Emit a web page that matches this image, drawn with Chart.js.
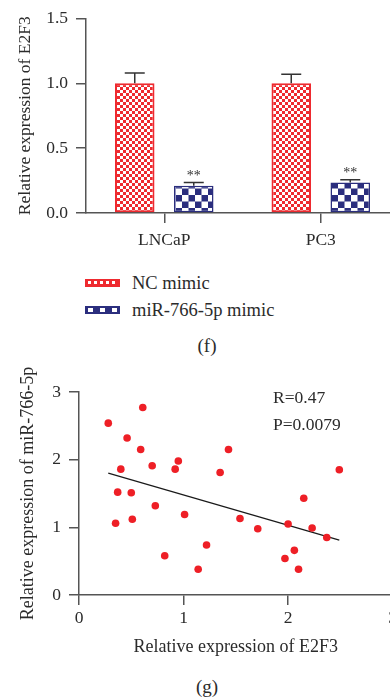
<!DOCTYPE html>
<html>
<head>
<meta charset="utf-8">
<script src="https://cdn.jsdelivr.net/npm/chart.js@4.4.0/dist/chart.umd.min.js"></script>
<style>
html, body { margin: 0; padding: 0; background: #fff; width: 390px; height: 699px; overflow: hidden; position: relative;
  font-family: "Liberation Serif", "DejaVu Serif", serif; color: #2b2b2b; }
.box { position: absolute; left: 0; }
#barBox { top: 0; width: 400px; height: 262px; }
#dotBox { top: 350px; width: 400px; height: 310px; }
.txt { position: absolute; white-space: nowrap; line-height: 1; transform: translateY(-50%); }
.swatch { position: absolute; left: 85px; width: 35px; height: 8px; }
</style>
</head>
<body>
<div class="box" id="barBox"><canvas id="barChart"></canvas></div>
<canvas class="swatch" id="swNc" width="35" height="8" style="top:279px"></canvas>
<div class="txt" style="left:132px;top:283px;font-size:18.5px">NC mimic</div>
<canvas class="swatch" id="swMi" width="35" height="8" style="top:306px"></canvas>
<div class="txt" style="left:132px;top:310px;font-size:18.5px">miR-766-5p mimic</div>
<div class="txt" style="left:0;width:414px;text-align:center;top:345px;font-size:19px">(f)</div>

<div class="box" id="dotBox"><canvas id="dotChart"></canvas></div>
<div class="txt" style="left:273px;top:398px;font-size:17.5px">R=0.47</div>
<div class="txt" style="left:273px;top:425px;font-size:17.5px">P=0.0079</div>
<div class="txt" style="left:0;width:414px;text-align:center;top:686px;font-size:19px">(g)</div>

<script>
// bar chart (f)
const categories = ['LNCaP', 'PC3'];
const ncMimic = [1.0, 1.0];
const ncErr = [0.08, 0.07];
const miMimic = [0.21, 0.235];
const miErr = [0.025, 0.022];
const sigMarks = ['**', '**'];
const barTicks = [0, 0.5, 1.0, 1.5];

// scatter (g)
const e2f3   = [0.28, 0.61, 0.46, 0.59, 0.40, 0.70, 0.95, 0.92, 1.43, 1.35, 2.49, 0.37, 0.50, 0.73, 0.35,
                0.51, 1.01, 2.15, 1.54, 1.71, 2.00, 2.23, 2.37, 0.82, 1.22, 1.14, 1.97, 2.06, 2.10];
const mir766 = [2.54, 2.77, 2.32, 2.15, 1.86, 1.91, 1.98, 1.86, 2.15, 1.81, 1.85, 1.52, 1.51, 1.32, 1.06,
                1.12, 1.19, 1.43, 1.13, 0.98, 1.05, 0.99, 0.85, 0.58, 0.74, 0.38, 0.54, 0.66, 0.38];
const fitX = [0.28, 2.49];
const fitY = [1.80, 0.81];
const scatterTicks = [0, 1, 2, 3];

const FONT = '"Liberation Serif", "DejaVu Serif", serif';
const INK = '#2b2b2b';
const AXIS = '#555';
const RED = '#ee2a2f';
const NAVY = '#2b2e7e';

function checker(size, fg, bg) {
  const c = document.createElement('canvas');
  c.width = c.height = size * 2;
  const g = c.getContext('2d');
  g.fillStyle = bg; g.fillRect(0, 0, size * 2, size * 2);
  g.fillStyle = fg; g.fillRect(0, 0, size, size); g.fillRect(size, size, size, size);
  return g.createPattern(c, 'repeat');
}

// legend swatches
(function () {
  let g = document.getElementById('swNc').getContext('2d');
  g.fillStyle = RED; g.fillRect(0, 0, 35, 8);
  g.fillStyle = '#fff';
  for (let x = 3; x < 33; x += 6) g.fillRect(x, 2, 3, 3);
  g = document.getElementById('swMi').getContext('2d');
  g.fillStyle = NAVY; g.fillRect(0, 0, 35, 8);
  g.fillStyle = '#fff';
  for (let x = 3; x < 33; x += 12) g.fillRect(x, 2, 5, 4);
})();

const errorBars = {
  id: 'errorBars',
  afterDatasetsDraw(chart) {
    const ctx = chart.ctx, y = chart.scales.y;
    chart.data.datasets.forEach((ds, i) => {
      chart.getDatasetMeta(i).data.forEach((bar, j) => {
        const top = y.getPixelForValue(ds.data[j] + ds.err[j]);
        ctx.save();
        ctx.strokeStyle = '#333';
        ctx.lineWidth = 1.5;
        ctx.beginPath();
        ctx.moveTo(bar.x, bar.y); ctx.lineTo(bar.x, top);
        ctx.moveTo(bar.x - 10, top); ctx.lineTo(bar.x + 10, top);
        ctx.stroke();
        if (ds.marks) {
          ctx.fillStyle = '#333';
          ctx.font = '14px ' + FONT;
          ctx.textAlign = 'center';
          ctx.textBaseline = 'alphabetic';
          ctx.fillText(ds.marks[j], bar.x, top - 3);
        }
        ctx.restore();
      });
    });
  }
};

new Chart(document.getElementById('barChart'), {
  type: 'bar',
  data: {
    labels: categories,
    datasets: [
      { label: 'NC mimic', data: ncMimic, err: ncErr, backgroundColor: checker(3, '#fff', RED),
        borderColor: RED, borderWidth: 2, borderSkipped: false,
        categoryPercentage: 0.754, barPercentage: 0.67 },
      { label: 'miR-766-5p mimic', data: miMimic, err: miErr, marks: sigMarks,
        backgroundColor: checker(6.5, '#fff', NAVY), borderColor: NAVY, borderWidth: 1.5, borderSkipped: false,
        categoryPercentage: 0.754, barPercentage: 0.67 }
    ]
  },
  options: {
    responsive: true,
    maintainAspectRatio: false,
    animation: false,
    layout: { padding: { top: 13, right: 1, left: 0, bottom: 0 } },
    plugins: { legend: { display: false }, tooltip: { enabled: false } },
    scales: {
      x: {
        afterFit: s => { s.height = 49; },
        grid: { drawOnChartArea: false, offset: false, tickLength: 10, color: AXIS, lineWidth: 1.5 },
        border: { color: AXIS, width: 1.5 },
        ticks: { color: INK, font: { family: FONT, size: 17.5 }, padding: 7 }
      },
      y: {
        min: 0, max: 1.5,
        afterFit: s => { s.width = 86; },
        afterBuildTicks: s => { s.ticks = barTicks.map(v => ({ value: v })); },
        grid: { drawOnChartArea: false, tickLength: 10, color: AXIS, lineWidth: 1.5 },
        border: { color: AXIS, width: 1.5 },
        ticks: { color: INK, font: { family: FONT, size: 17.5 }, padding: 8, callback: v => v.toFixed(1) },
        title: { display: true, text: 'Relative expression of E2F3', color: INK,
                 font: { family: FONT, size: 17.5 }, padding: { top: 14.5, bottom: 0 } }
      }
    }
  },
  plugins: [errorBars]
});

new Chart(document.getElementById('dotChart'), {
  type: 'scatter',
  data: {
    datasets: [
      { data: e2f3.map((x, i) => ({ x: x, y: mir766[i] })), backgroundColor: '#ee1f26',
        borderWidth: 0, pointRadius: 3.8 },
      { type: 'line', data: fitX.map((x, i) => ({ x: x, y: fitY[i] })), borderColor: '#1a1a1a',
        borderWidth: 1.2, pointRadius: 0, fill: false }
    ]
  },
  options: {
    responsive: true,
    maintainAspectRatio: false,
    animation: false,
    layout: { padding: { top: 42, right: 7, left: 0, bottom: 0 } },
    plugins: { legend: { display: false }, tooltip: { enabled: false } },
    scales: {
      x: {
        type: 'linear', min: 0, max: 3,
        afterFit: s => { s.height = 65; },
        afterBuildTicks: s => { s.ticks = scatterTicks.map(v => ({ value: v })); },
        grid: { drawOnChartArea: false, tickLength: 10, color: AXIS, lineWidth: 1.5 },
        border: { color: AXIS, width: 1.5 },
        ticks: { color: INK, font: { family: FONT, size: 17.5 }, padding: 3 },
        title: { display: true, text: 'Relative expression of E2F3', color: INK,
                 font: { family: FONT, size: 18 }, padding: { top: 0, bottom: 2 } }
      },
      y: {
        min: 0, max: 3,
        afterFit: s => { s.width = 79; },
        afterBuildTicks: s => { s.ticks = scatterTicks.map(v => ({ value: v })); },
        grid: { drawOnChartArea: false, tickLength: 10, color: AXIS, lineWidth: 1.5 },
        border: { color: AXIS, width: 1.5 },
        ticks: { color: INK, font: { family: FONT, size: 17.5 }, padding: 8 },
        title: { display: true, text: 'Relative expression of miR-766-5p', color: INK,
                 font: { family: FONT, size: 18 }, padding: { top: 17, bottom: 0 } }
      }
    }
  }
});
</script>
</body>
</html>
